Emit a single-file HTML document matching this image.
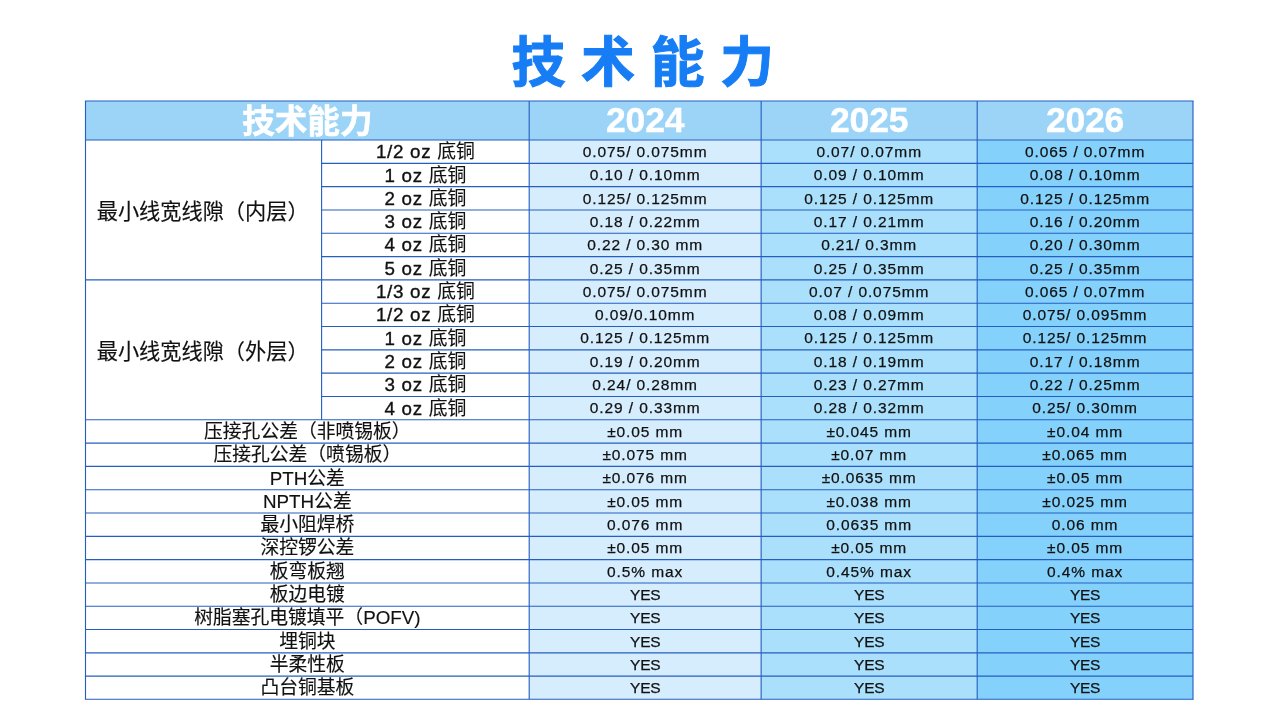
<!DOCTYPE html>
<html lang="zh-CN">
<head>
<meta charset="utf-8">
<title>技术能力</title>
<style>
html,body{margin:0;padding:0;background:#fff;}
body{width:1280px;height:721px;position:relative;overflow:hidden;font-family:"Liberation Sans","Noto Sans CJK SC",sans-serif;color:#111;}
#grid{position:absolute;left:0;top:0;width:1280px;height:721px;}
.t{position:absolute;white-space:nowrap;text-align:center;display:flex;align-items:center;justify-content:center;}
.title{left:0;width:1280px;box-sizing:border-box;padding-left:21px;top:23.5px;height:70px;font-size:54px;font-weight:bold;color:#167df5;letter-spacing:15.5px;-webkit-text-stroke:1px #167df5;}
.h{font-weight:bold;color:#fff;font-size:32.6px;-webkit-text-stroke:0.6px #fff;}
.hy{font-size:35.5px;letter-spacing:-0.2px;-webkit-text-stroke:0.4px #fff;}
.g,.s,.w{-webkit-text-stroke:0.15px #111;}
.g{font-size:21.2px;justify-content:flex-start;}
.s{font-size:18.8px;word-spacing:0px;}
.d{-webkit-text-stroke:0.25px #111;font-size:15.5px;letter-spacing:0.9px;font-family:inherit;}
.w{font-size:18.8px;}
.y{letter-spacing:-0.3px;font-size:15.5px;}
.l{letter-spacing:0.7px;-webkit-text-stroke:0.35px #111;}
</style>
</head>
<body>

<svg id="grid" width="1280" height="721" viewBox="0 0 1280 721">
<rect x="85.5" y="101.0" width="1107.50" height="39.05" fill="#9cd4f8"/>
<rect x="529.2" y="140.05" width="231.95" height="559.25" fill="#d6edfe"/>
<rect x="761.15" y="140.05" width="216.05" height="559.25" fill="#abe0fd"/>
<rect x="977.2" y="140.05" width="215.80" height="559.25" fill="#84d2fc"/>
<g stroke="#245ec0" stroke-width="1.12" fill="none">
<line x1="84.94" y1="101.00" x2="1193.56" y2="101.00"/>
<line x1="85.50" y1="140.05" x2="1193.00" y2="140.05"/>
<line x1="321.60" y1="163.36" x2="1193.00" y2="163.36"/>
<line x1="321.60" y1="186.67" x2="1193.00" y2="186.67"/>
<line x1="321.60" y1="209.98" x2="1193.00" y2="209.98"/>
<line x1="321.60" y1="233.29" x2="1193.00" y2="233.29"/>
<line x1="321.60" y1="256.60" x2="1193.00" y2="256.60"/>
<line x1="85.50" y1="279.91" x2="1193.00" y2="279.91"/>
<line x1="321.60" y1="303.22" x2="1193.00" y2="303.22"/>
<line x1="321.60" y1="326.53" x2="1193.00" y2="326.53"/>
<line x1="321.60" y1="349.84" x2="1193.00" y2="349.84"/>
<line x1="321.60" y1="373.15" x2="1193.00" y2="373.15"/>
<line x1="321.60" y1="396.46" x2="1193.00" y2="396.46"/>
<line x1="85.50" y1="419.77" x2="1193.00" y2="419.77"/>
<line x1="85.50" y1="443.08" x2="1193.00" y2="443.08"/>
<line x1="85.50" y1="466.39" x2="1193.00" y2="466.39"/>
<line x1="85.50" y1="489.70" x2="1193.00" y2="489.70"/>
<line x1="85.50" y1="513.01" x2="1193.00" y2="513.01"/>
<line x1="85.50" y1="536.32" x2="1193.00" y2="536.32"/>
<line x1="85.50" y1="559.63" x2="1193.00" y2="559.63"/>
<line x1="85.50" y1="582.94" x2="1193.00" y2="582.94"/>
<line x1="85.50" y1="606.25" x2="1193.00" y2="606.25"/>
<line x1="85.50" y1="629.56" x2="1193.00" y2="629.56"/>
<line x1="85.50" y1="652.87" x2="1193.00" y2="652.87"/>
<line x1="85.50" y1="676.18" x2="1193.00" y2="676.18"/>
<line x1="84.94" y1="699.30" x2="1193.56" y2="699.30"/>
<line x1="85.50" y1="101.00" x2="85.50" y2="699.30"/>
<line x1="1193.00" y1="101.00" x2="1193.00" y2="699.30"/>
<line x1="321.60" y1="140.05" x2="321.60" y2="419.77"/>
<line x1="529.20" y1="101.00" x2="529.20" y2="699.30"/>
<line x1="761.15" y1="101.00" x2="761.15" y2="699.30"/>
<line x1="977.20" y1="101.00" x2="977.20" y2="699.30"/>
</g>
</svg>
<div class="t title">技术能力</div>
<div class="t h" style="left:85.50px;top:99.00px;width:443.70px;height:39.05px;">技术能力</div>
<div class="t h hy" style="left:529.20px;top:100.60px;width:231.95px;height:39.05px;">2024</div>
<div class="t h hy" style="left:761.15px;top:100.60px;width:216.05px;height:39.05px;">2025</div>
<div class="t h hy" style="left:977.20px;top:100.60px;width:215.80px;height:39.05px;">2026</div>
<div class="t g" style="left:85.50px;top:140.05px;width:236.10px;height:139.86px;padding-left:11.2px;box-sizing:border-box;">最小线宽线隙（内层）</div>
<div class="t g" style="left:85.50px;top:279.91px;width:236.10px;height:139.86px;padding-left:11.2px;box-sizing:border-box;">最小线宽线隙（外层）</div>
<div class="t s" style="left:321.60px;top:138.05px;width:207.60px;height:23.31px;"><span><span class="l">1/2 oz </span>底铜</span></div>
<div class="t s" style="left:321.60px;top:161.36px;width:207.60px;height:23.31px;"><span><span class="l">1 oz </span>底铜</span></div>
<div class="t s" style="left:321.60px;top:184.67px;width:207.60px;height:23.31px;"><span><span class="l">2 oz </span>底铜</span></div>
<div class="t s" style="left:321.60px;top:207.98px;width:207.60px;height:23.31px;"><span><span class="l">3 oz </span>底铜</span></div>
<div class="t s" style="left:321.60px;top:231.29px;width:207.60px;height:23.31px;"><span><span class="l">4 oz </span>底铜</span></div>
<div class="t s" style="left:321.60px;top:254.60px;width:207.60px;height:23.31px;"><span><span class="l">5 oz </span>底铜</span></div>
<div class="t s" style="left:321.60px;top:277.91px;width:207.60px;height:23.31px;"><span><span class="l">1/3 oz </span>底铜</span></div>
<div class="t s" style="left:321.60px;top:301.22px;width:207.60px;height:23.31px;"><span><span class="l">1/2 oz </span>底铜</span></div>
<div class="t s" style="left:321.60px;top:324.53px;width:207.60px;height:23.31px;"><span><span class="l">1 oz </span>底铜</span></div>
<div class="t s" style="left:321.60px;top:347.84px;width:207.60px;height:23.31px;"><span><span class="l">2 oz </span>底铜</span></div>
<div class="t s" style="left:321.60px;top:371.15px;width:207.60px;height:23.31px;"><span><span class="l">3 oz </span>底铜</span></div>
<div class="t s" style="left:321.60px;top:394.46px;width:207.60px;height:23.31px;"><span><span class="l">4 oz </span>底铜</span></div>
<div class="t w" style="left:85.50px;top:417.77px;width:443.70px;height:23.31px;">压接孔公差（非喷锡板）</div>
<div class="t w" style="left:85.50px;top:441.08px;width:443.70px;height:23.31px;">压接孔公差（喷锡板）</div>
<div class="t w" style="left:85.50px;top:464.39px;width:443.70px;height:23.31px;">PTH公差</div>
<div class="t w" style="left:85.50px;top:487.70px;width:443.70px;height:23.31px;">NPTH公差</div>
<div class="t w" style="left:85.50px;top:511.01px;width:443.70px;height:23.31px;">最小阻焊桥</div>
<div class="t w" style="left:85.50px;top:534.32px;width:443.70px;height:23.31px;">深控锣公差</div>
<div class="t w" style="left:85.50px;top:557.63px;width:443.70px;height:23.31px;">板弯板翘</div>
<div class="t w" style="left:85.50px;top:580.94px;width:443.70px;height:23.31px;">板边电镀</div>
<div class="t w" style="left:85.50px;top:604.25px;width:443.70px;height:23.31px;">树脂塞孔电镀填平（POFV)</div>
<div class="t w" style="left:85.50px;top:627.56px;width:443.70px;height:23.31px;">埋铜块</div>
<div class="t w" style="left:85.50px;top:650.87px;width:443.70px;height:23.31px;">半柔性板</div>
<div class="t w" style="left:85.50px;top:674.18px;width:443.70px;height:23.12px;">凸台铜基板</div>
<div class="t d" style="left:529.20px;top:140.35px;width:231.95px;height:23.31px;">0.075/ 0.075mm</div>
<div class="t d" style="left:761.15px;top:140.35px;width:216.05px;height:23.31px;">0.07/ 0.07mm</div>
<div class="t d" style="left:977.20px;top:140.35px;width:215.80px;height:23.31px;">0.065 / 0.07mm</div>
<div class="t d" style="left:529.20px;top:163.66px;width:231.95px;height:23.31px;">0.10 / 0.10mm</div>
<div class="t d" style="left:761.15px;top:163.66px;width:216.05px;height:23.31px;">0.09 / 0.10mm</div>
<div class="t d" style="left:977.20px;top:163.66px;width:215.80px;height:23.31px;">0.08 / 0.10mm</div>
<div class="t d" style="left:529.20px;top:186.97px;width:231.95px;height:23.31px;">0.125/ 0.125mm</div>
<div class="t d" style="left:761.15px;top:186.97px;width:216.05px;height:23.31px;">0.125 / 0.125mm</div>
<div class="t d" style="left:977.20px;top:186.97px;width:215.80px;height:23.31px;">0.125 / 0.125mm</div>
<div class="t d" style="left:529.20px;top:210.28px;width:231.95px;height:23.31px;">0.18 / 0.22mm</div>
<div class="t d" style="left:761.15px;top:210.28px;width:216.05px;height:23.31px;">0.17 / 0.21mm</div>
<div class="t d" style="left:977.20px;top:210.28px;width:215.80px;height:23.31px;">0.16 / 0.20mm</div>
<div class="t d" style="left:529.20px;top:233.59px;width:231.95px;height:23.31px;">0.22 / 0.30 mm</div>
<div class="t d" style="left:761.15px;top:233.59px;width:216.05px;height:23.31px;">0.21/ 0.3mm</div>
<div class="t d" style="left:977.20px;top:233.59px;width:215.80px;height:23.31px;">0.20 / 0.30mm</div>
<div class="t d" style="left:529.20px;top:256.90px;width:231.95px;height:23.31px;">0.25 / 0.35mm</div>
<div class="t d" style="left:761.15px;top:256.90px;width:216.05px;height:23.31px;">0.25 / 0.35mm</div>
<div class="t d" style="left:977.20px;top:256.90px;width:215.80px;height:23.31px;">0.25 / 0.35mm</div>
<div class="t d" style="left:529.20px;top:280.21px;width:231.95px;height:23.31px;">0.075/ 0.075mm</div>
<div class="t d" style="left:761.15px;top:280.21px;width:216.05px;height:23.31px;">0.07 / 0.075mm</div>
<div class="t d" style="left:977.20px;top:280.21px;width:215.80px;height:23.31px;">0.065 / 0.07mm</div>
<div class="t d" style="left:529.20px;top:303.52px;width:231.95px;height:23.31px;">0.09/0.10mm</div>
<div class="t d" style="left:761.15px;top:303.52px;width:216.05px;height:23.31px;">0.08 / 0.09mm</div>
<div class="t d" style="left:977.20px;top:303.52px;width:215.80px;height:23.31px;">0.075/ 0.095mm</div>
<div class="t d" style="left:529.20px;top:326.83px;width:231.95px;height:23.31px;">0.125 / 0.125mm</div>
<div class="t d" style="left:761.15px;top:326.83px;width:216.05px;height:23.31px;">0.125 / 0.125mm</div>
<div class="t d" style="left:977.20px;top:326.83px;width:215.80px;height:23.31px;">0.125/ 0.125mm</div>
<div class="t d" style="left:529.20px;top:350.14px;width:231.95px;height:23.31px;">0.19 / 0.20mm</div>
<div class="t d" style="left:761.15px;top:350.14px;width:216.05px;height:23.31px;">0.18 / 0.19mm</div>
<div class="t d" style="left:977.20px;top:350.14px;width:215.80px;height:23.31px;">0.17 / 0.18mm</div>
<div class="t d" style="left:529.20px;top:373.45px;width:231.95px;height:23.31px;">0.24/ 0.28mm</div>
<div class="t d" style="left:761.15px;top:373.45px;width:216.05px;height:23.31px;">0.23 / 0.27mm</div>
<div class="t d" style="left:977.20px;top:373.45px;width:215.80px;height:23.31px;">0.22 / 0.25mm</div>
<div class="t d" style="left:529.20px;top:396.76px;width:231.95px;height:23.31px;">0.29 / 0.33mm</div>
<div class="t d" style="left:761.15px;top:396.76px;width:216.05px;height:23.31px;">0.28 / 0.32mm</div>
<div class="t d" style="left:977.20px;top:396.76px;width:215.80px;height:23.31px;">0.25/ 0.30mm</div>
<div class="t d" style="left:529.20px;top:420.07px;width:231.95px;height:23.31px;">±0.05 mm</div>
<div class="t d" style="left:761.15px;top:420.07px;width:216.05px;height:23.31px;">±0.045 mm</div>
<div class="t d" style="left:977.20px;top:420.07px;width:215.80px;height:23.31px;">±0.04 mm</div>
<div class="t d" style="left:529.20px;top:443.38px;width:231.95px;height:23.31px;">±0.075 mm</div>
<div class="t d" style="left:761.15px;top:443.38px;width:216.05px;height:23.31px;">±0.07 mm</div>
<div class="t d" style="left:977.20px;top:443.38px;width:215.80px;height:23.31px;">±0.065 mm</div>
<div class="t d" style="left:529.20px;top:466.69px;width:231.95px;height:23.31px;">±0.076 mm</div>
<div class="t d" style="left:761.15px;top:466.69px;width:216.05px;height:23.31px;">±0.0635 mm</div>
<div class="t d" style="left:977.20px;top:466.69px;width:215.80px;height:23.31px;">±0.05 mm</div>
<div class="t d" style="left:529.20px;top:490.00px;width:231.95px;height:23.31px;">±0.05 mm</div>
<div class="t d" style="left:761.15px;top:490.00px;width:216.05px;height:23.31px;">±0.038 mm</div>
<div class="t d" style="left:977.20px;top:490.00px;width:215.80px;height:23.31px;">±0.025 mm</div>
<div class="t d" style="left:529.20px;top:513.31px;width:231.95px;height:23.31px;">0.076 mm</div>
<div class="t d" style="left:761.15px;top:513.31px;width:216.05px;height:23.31px;">0.0635 mm</div>
<div class="t d" style="left:977.20px;top:513.31px;width:215.80px;height:23.31px;">0.06 mm</div>
<div class="t d" style="left:529.20px;top:536.62px;width:231.95px;height:23.31px;">±0.05 mm</div>
<div class="t d" style="left:761.15px;top:536.62px;width:216.05px;height:23.31px;">±0.05 mm</div>
<div class="t d" style="left:977.20px;top:536.62px;width:215.80px;height:23.31px;">±0.05 mm</div>
<div class="t d" style="left:529.20px;top:559.93px;width:231.95px;height:23.31px;">0.5% max</div>
<div class="t d" style="left:761.15px;top:559.93px;width:216.05px;height:23.31px;">0.45% max</div>
<div class="t d" style="left:977.20px;top:559.93px;width:215.80px;height:23.31px;">0.4% max</div>
<div class="t d y" style="left:529.20px;top:583.24px;width:231.95px;height:23.31px;">YES</div>
<div class="t d y" style="left:761.15px;top:583.24px;width:216.05px;height:23.31px;">YES</div>
<div class="t d y" style="left:977.20px;top:583.24px;width:215.80px;height:23.31px;">YES</div>
<div class="t d y" style="left:529.20px;top:606.55px;width:231.95px;height:23.31px;">YES</div>
<div class="t d y" style="left:761.15px;top:606.55px;width:216.05px;height:23.31px;">YES</div>
<div class="t d y" style="left:977.20px;top:606.55px;width:215.80px;height:23.31px;">YES</div>
<div class="t d y" style="left:529.20px;top:629.86px;width:231.95px;height:23.31px;">YES</div>
<div class="t d y" style="left:761.15px;top:629.86px;width:216.05px;height:23.31px;">YES</div>
<div class="t d y" style="left:977.20px;top:629.86px;width:215.80px;height:23.31px;">YES</div>
<div class="t d y" style="left:529.20px;top:653.17px;width:231.95px;height:23.31px;">YES</div>
<div class="t d y" style="left:761.15px;top:653.17px;width:216.05px;height:23.31px;">YES</div>
<div class="t d y" style="left:977.20px;top:653.17px;width:215.80px;height:23.31px;">YES</div>
<div class="t d y" style="left:529.20px;top:676.48px;width:231.95px;height:23.12px;">YES</div>
<div class="t d y" style="left:761.15px;top:676.48px;width:216.05px;height:23.12px;">YES</div>
<div class="t d y" style="left:977.20px;top:676.48px;width:215.80px;height:23.12px;">YES</div>
</body>
</html>
